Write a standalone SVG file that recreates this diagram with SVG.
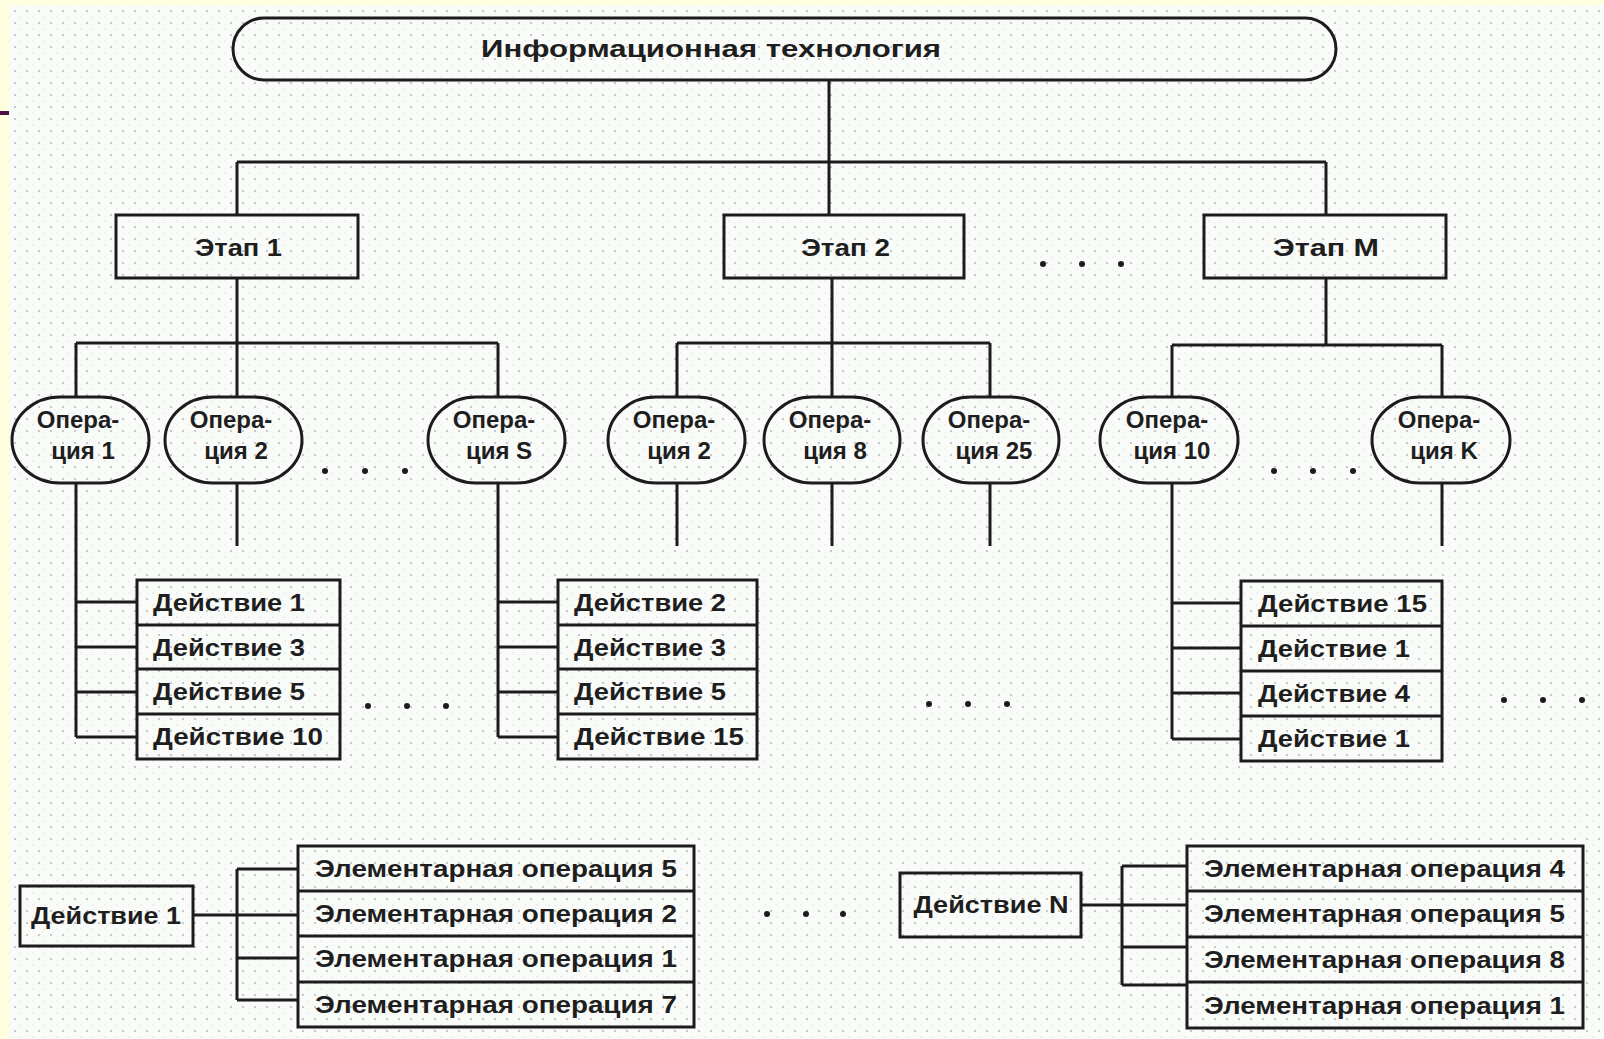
<svg xmlns="http://www.w3.org/2000/svg" width="1604" height="1039" viewBox="0 0 1604 1039">
<defs>
<pattern id="dots" x="9" y="5" width="12" height="12" patternUnits="userSpaceOnUse">
<rect width="12" height="12" fill="#f9fbf9"/>
<circle cx="6" cy="6" r="1.1" fill="#bcbcbc"/>
<circle cx="0" cy="0" r="0.8" fill="#e2e4e2"/>
<circle cx="12" cy="0" r="0.8" fill="#e2e4e2"/>
<circle cx="0" cy="12" r="0.8" fill="#e2e4e2"/>
<circle cx="12" cy="12" r="0.8" fill="#e2e4e2"/>
</pattern>
</defs>
<style>
.box{fill:none;stroke:#1c1c1c;stroke-width:3}
.ln{fill:none;stroke:#1c1c1c;stroke-width:3}
.t{font-family:"Liberation Sans",Arial,sans-serif;font-weight:bold;font-size:24px;fill:#1e1e1e}
.c{text-anchor:middle}
.dot{fill:#1c1c1c}
</style>
<rect x="0" y="0" width="1604" height="1039" fill="#ffffe0"/>
<rect x="9" y="5" width="1595" height="1034" fill="url(#dots)"/>
<rect x="0" y="111" width="9" height="4" fill="#4a1048"/>

<g id="connectors">
<path class="ln" d="M829 80V162M237 162H1326M237 162V215M829 162V215M1326 162V215"/>
<path class="ln" d="M237 278V343M76 343H498M76 343V397M237 343V397M498 343V397"/>
<path class="ln" d="M832 278V343M677 343H990M677 343V397M832 343V397M990 343V397"/>
<path class="ln" d="M1326 278V345M1172 345H1442M1172 345V397M1442 345V397"/>
<path class="ln" d="M237 483V546M677 483V546M832 483V546M990 483V546M1442 483V546"/>
<path class="ln" d="M76 483V737M76 602H137M76 647H137M76 692H137M76 737H137"/>
<path class="ln" d="M498 483V737M498 602H558M498 647H558M498 692H558M498 737H558"/>
<path class="ln" d="M1172 483V739M1172 603H1241M1172 648H1241M1172 693H1241M1172 739H1241"/>
<path class="ln" d="M193 915H298M237 869V1000M237 869H298M237 958H298M237 1000H298"/>
<path class="ln" d="M1081 905H1187M1122 866V985M1122 866H1187M1122 947H1187M1122 985H1187"/>
</g>

<g id="node-it">
<rect class="box" x="233" y="18" width="1103" height="62" rx="31" ry="31"/>
<text class="t" x="481" y="57" font-size="26" textLength="460" lengthAdjust="spacingAndGlyphs">Информационная технология</text>
</g>

<g id="node-stage1">
<rect class="box" x="116" y="215" width="242" height="63"/>
<text class="t" x="195" y="256" textLength="87" lengthAdjust="spacingAndGlyphs">Этап 1</text>
</g>
<g id="node-stage2">
<rect class="box" x="724" y="215" width="240" height="63"/>
<text class="t" x="801" y="256" textLength="89" lengthAdjust="spacingAndGlyphs">Этап 2</text>
</g>
<g id="node-stageM">
<rect class="box" x="1204" y="215" width="242" height="63"/>
<text class="t" x="1273" y="256" textLength="106" lengthAdjust="spacingAndGlyphs">Этап M</text>
</g>
<g id="dots-stages">
<circle class="dot" cx="1043" cy="264" r="3"/><circle class="dot" cx="1082" cy="264" r="3"/><circle class="dot" cx="1121" cy="264" r="3"/>
</g>

<g id="node-op1">
<rect class="box" x="12" y="397" width="137" height="86" rx="48" ry="43"/>
<text class="t c" x="78" y="428">Опера-</text><text class="t c" x="83" y="459">ция 1</text>
</g>
<g id="node-op2a">
<rect class="box" x="165" y="397" width="137" height="86" rx="48" ry="43"/>
<text class="t c" x="231" y="428">Опера-</text><text class="t c" x="236" y="459">ция 2</text>
</g>
<g id="node-opS">
<rect class="box" x="428" y="397" width="137" height="86" rx="48" ry="43"/>
<text class="t c" x="494" y="428">Опера-</text><text class="t c" x="499" y="459">ция S</text>
</g>
<g id="node-op2b">
<rect class="box" x="608" y="397" width="137" height="86" rx="48" ry="43"/>
<text class="t c" x="674" y="428">Опера-</text><text class="t c" x="679" y="459">ция 2</text>
</g>
<g id="node-op8">
<rect class="box" x="764" y="397" width="136" height="86" rx="48" ry="43"/>
<text class="t c" x="830" y="428">Опера-</text><text class="t c" x="835" y="459">ция 8</text>
</g>
<g id="node-op25">
<rect class="box" x="923" y="397" width="136" height="86" rx="48" ry="43"/>
<text class="t c" x="989" y="428">Опера-</text><text class="t c" x="994" y="459">ция 25</text>
</g>
<g id="node-op10">
<rect class="box" x="1100" y="397" width="138" height="86" rx="48" ry="43"/>
<text class="t c" x="1167" y="428">Опера-</text><text class="t c" x="1172" y="459">ция 10</text>
</g>
<g id="node-opK">
<rect class="box" x="1372" y="397" width="138" height="86" rx="48" ry="43"/>
<text class="t c" x="1439" y="428">Опера-</text><text class="t c" x="1444" y="459">ция K</text>
</g>
<g id="dots-ops">
<circle class="dot" cx="325" cy="471" r="3"/><circle class="dot" cx="365" cy="471" r="3"/><circle class="dot" cx="405" cy="471" r="3"/>
<circle class="dot" cx="1274" cy="471" r="3"/><circle class="dot" cx="1313" cy="471" r="3"/><circle class="dot" cx="1353" cy="471" r="3"/>
</g>

<g id="node-actions1">
<rect class="box" x="137" y="580" width="203" height="179"/>
<path class="ln" d="M137 625H340M137 669H340M137 714H340"/>
<text class="t" x="153" y="611" textLength="152" lengthAdjust="spacingAndGlyphs">Действие 1</text>
<text class="t" x="153" y="656" textLength="152" lengthAdjust="spacingAndGlyphs">Действие 3</text>
<text class="t" x="153" y="700" textLength="152" lengthAdjust="spacingAndGlyphs">Действие 5</text>
<text class="t" x="153" y="745" textLength="170" lengthAdjust="spacingAndGlyphs">Действие 10</text>
</g>
<g id="node-actions2">
<rect class="box" x="558" y="580" width="199" height="179"/>
<path class="ln" d="M558 625H757M558 669H757M558 714H757"/>
<text class="t" x="574" y="611" textLength="152" lengthAdjust="spacingAndGlyphs">Действие 2</text>
<text class="t" x="574" y="656" textLength="152" lengthAdjust="spacingAndGlyphs">Действие 3</text>
<text class="t" x="574" y="700" textLength="152" lengthAdjust="spacingAndGlyphs">Действие 5</text>
<text class="t" x="574" y="745" textLength="170" lengthAdjust="spacingAndGlyphs">Действие 15</text>
</g>
<g id="node-actions3">
<rect class="box" x="1241" y="581" width="201" height="180"/>
<path class="ln" d="M1241 626H1442M1241 671H1442M1241 716H1442"/>
<text class="t" x="1258" y="612" textLength="169" lengthAdjust="spacingAndGlyphs">Действие 15</text>
<text class="t" x="1258" y="657" textLength="152" lengthAdjust="spacingAndGlyphs">Действие 1</text>
<text class="t" x="1258" y="702" textLength="152" lengthAdjust="spacingAndGlyphs">Действие 4</text>
<text class="t" x="1258" y="747" textLength="152" lengthAdjust="spacingAndGlyphs">Действие 1</text>
</g>
<g id="dots-actions">
<circle class="dot" cx="368" cy="706" r="3"/><circle class="dot" cx="407" cy="706" r="3"/><circle class="dot" cx="446" cy="706" r="3"/>
<circle class="dot" cx="929" cy="704" r="3"/><circle class="dot" cx="968" cy="704" r="3"/><circle class="dot" cx="1007" cy="704" r="3"/>
<circle class="dot" cx="1504" cy="700" r="3"/><circle class="dot" cx="1543" cy="700" r="3"/><circle class="dot" cx="1582" cy="700" r="3"/>
</g>

<g id="node-action1">
<rect class="box" x="20" y="886" width="173" height="60"/>
<text class="t c" x="106" y="924" textLength="150" lengthAdjust="spacingAndGlyphs">Действие 1</text>
</g>
<g id="node-elem1">
<rect class="box" x="298" y="846" width="396" height="181"/>
<path class="ln" d="M298 891H694M298 936H694M298 982H694"/>
<text class="t" x="315" y="877" textLength="362" lengthAdjust="spacingAndGlyphs">Элементарная операция 5</text>
<text class="t" x="315" y="922" textLength="362" lengthAdjust="spacingAndGlyphs">Элементарная операция 2</text>
<text class="t" x="315" y="967" textLength="362" lengthAdjust="spacingAndGlyphs">Элементарная операция 1</text>
<text class="t" x="315" y="1013" textLength="362" lengthAdjust="spacingAndGlyphs">Элементарная операция 7</text>
</g>
<g id="dots-bottom">
<circle class="dot" cx="767" cy="914" r="3"/><circle class="dot" cx="806" cy="914" r="3"/><circle class="dot" cx="843" cy="914" r="3"/>
</g>
<g id="node-actionN">
<rect class="box" x="900" y="873" width="181" height="64"/>
<text class="t c" x="991" y="913" textLength="155" lengthAdjust="spacingAndGlyphs">Действие N</text>
</g>
<g id="node-elem2">
<rect class="box" x="1187" y="846" width="396" height="182"/>
<path class="ln" d="M1187 891H1583M1187 937H1583M1187 982H1583"/>
<text class="t" x="1204" y="877" textLength="361" lengthAdjust="spacingAndGlyphs">Элементарная операция 4</text>
<text class="t" x="1204" y="922" textLength="361" lengthAdjust="spacingAndGlyphs">Элементарная операция 5</text>
<text class="t" x="1204" y="968" textLength="361" lengthAdjust="spacingAndGlyphs">Элементарная операция 8</text>
<text class="t" x="1204" y="1014" textLength="361" lengthAdjust="spacingAndGlyphs">Элементарная операция 1</text>
</g>
</svg>
